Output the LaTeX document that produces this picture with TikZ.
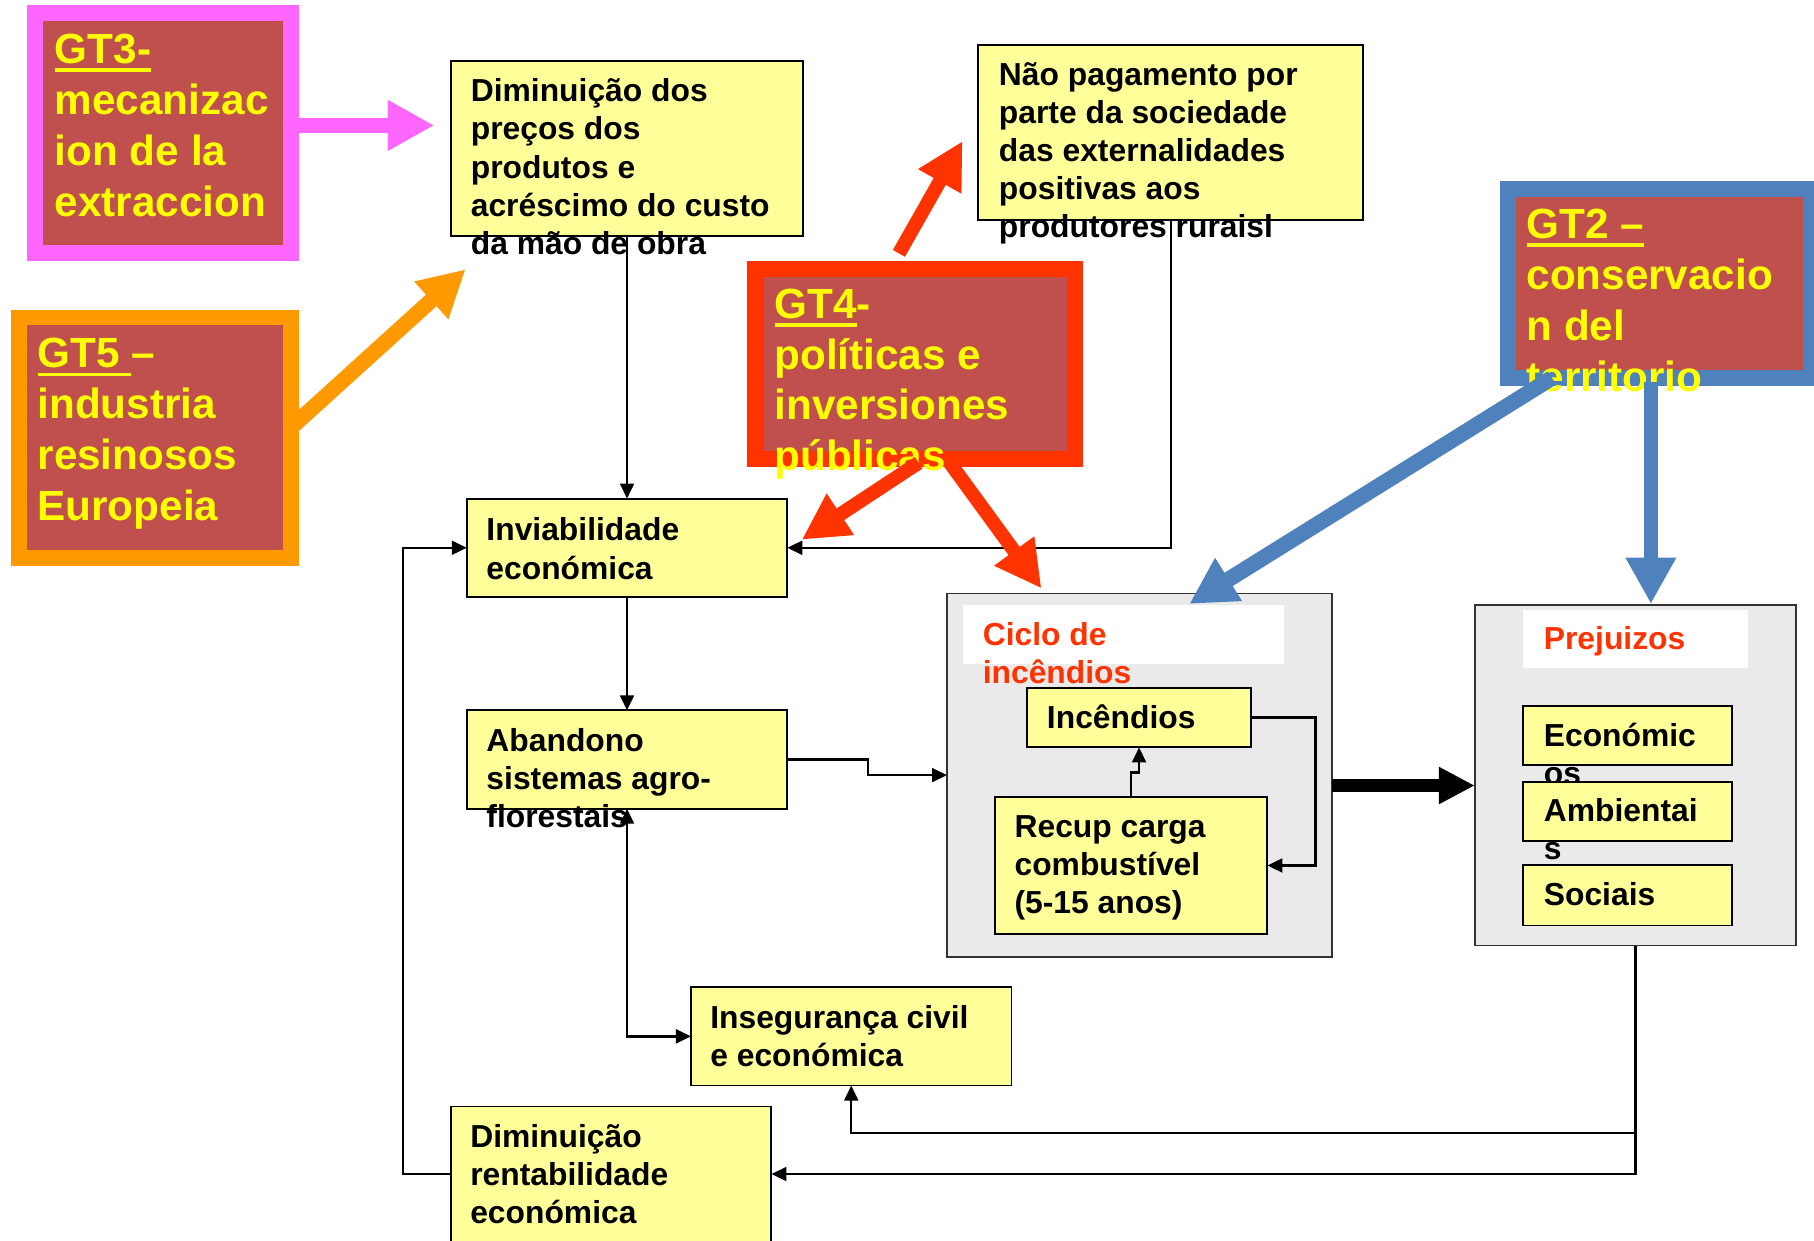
\documentclass[tikz,border=0pt]{standalone}
\usepackage{fontspec}
\setmainfont{Liberation Sans}
\usetikzlibrary{arrows.meta,calc}
\definecolor{boxyellow}{HTML}{FFFF99}
\definecolor{gtbrown}{HTML}{C0504D}
\definecolor{gtyellow}{HTML}{FFFF00}
\definecolor{gtpink}{HTML}{FF66FF}
\definecolor{gtorange}{HTML}{FF9900}
\definecolor{gtred}{HTML}{FF3300}
\definecolor{gtblue}{HTML}{4F81BD}
\definecolor{panelgrey}{HTML}{EAEAEA}
\newcommand\ml[1]{\begin{tabular}[t]{@{}l@{}}#1\end{tabular}}
\newcommand\gtul[1]{\setbox0\hbox{#1}\rlap{\rule[-3.7pt]{\wd0}{1.6pt}}\box0}
\tikzset{
  ybox/.style={draw=black, line width=0.8pt, fill=boxyellow, inner sep=0pt, outer sep=0pt, anchor=north west},
  panel/.style={draw=black!80, line width=0.8pt, fill=panelgrey, inner sep=0pt, outer sep=0pt, anchor=north west},
  whitelab/.style={fill=white, inner sep=0pt, outer sep=0pt, anchor=north west},
  gtbox/.style={line width=6.85pt, fill=gtbrown, inner sep=0pt, outer sep=0pt, anchor=north west},
  txt/.style={anchor=base west, inner sep=0pt, outer sep=0pt, font=\fontsize{13.75pt}{16.5pt}\selectfont\bfseries},
  redtxt/.style={txt, text=gtred},
  gttxt/.style={anchor=base west, inner sep=0pt, outer sep=0pt, text=gtyellow, font=\fontsize{18.25pt}{22pt}\selectfont\bfseries},
  conn/.style={line width=1pt, -{Triangle[length=6.5pt,width=6pt]}},
  conntwo/.style={line width=1pt, {Triangle[length=6.5pt,width=6pt]}-{Triangle[length=6.5pt,width=6pt]}},
  fatblack/.style={line width=5.25pt, -{Triangle[length=15.5pt,width=15pt]}},
  fatcol/.style={line width=6.75pt, -{Triangle[length=20pt,width=20.5pt]}},
  fatred/.style={line width=6pt, gtred, -{Triangle[length=20pt,width=20pt]}},
}
\begin{document}
\begin{tikzpicture}[x=0.5pt, y=-0.5pt]
\useasboundingbox[fill=white] (0,0) rectangle (1568,1072);
\clip (0,0) rectangle (1568,1072);

% GT boxes
\node[gtbox, draw=gtpink, minimum width=110.6pt, minimum height=103.9pt] (gt3) at (30.25,11.25) {};
\node[gttxt] (gt3t) at (47.5,55) {\ml{\gtul{GT3-}\\mecanizac\\ion de la\\extraccion}};

\node[gtbox, draw=gtorange, minimum width=117.4pt, minimum height=103.85pt] (gt5) at (16.75,274.5) {};
\node[gttxt] (gt5t) at (32.5,318) {\ml{\gtul{GT5\ }–\\industria\\resinosos\\Europeia}};

\node[gtbox, draw=gtred, line width=7pt, minimum width=138.1pt, minimum height=81.85pt] (gt4) at (653,232.8) {};
\node[gttxt] (gt4t) at (669.5,275) {\ml{\gtul{GT4}-\\políticas e\\inversiones\\públicas}};

\node[gtbox, draw=gtblue, minimum width=131pt, minimum height=81.4pt] (gt2) at (1303.5,163.6) {};
\node[gttxt] (gt2t) at (1319.5,206) {\ml{\gtul{GT2 –}\\conservacio\\n del\\territorio}};

% yellow boxes
\node[ybox, minimum width=152pt, minimum height=75.75pt] (dimp) at (390,52.5) {};
\node[txt] (dimpt) at (407,88) {\ml{Diminuição dos\\preços dos\\produtos e\\acréscimo do custo\\da mão de obra}};

\node[ybox, minimum width=166.35pt, minimum height=75.9pt] (nao) at (845.7,38.6) {};
\node[txt] (naot) at (863.5,73.5) {\ml{Não pagamento por\\parte da sociedade\\das externalidades\\positivas aos\\produtores ruraisl}};

\node[ybox, minimum width=138.5pt, minimum height=42.5pt] (inv) at (403.5,431) {};
\node[txt] (invt) at (420.5,467.5) {\ml{Inviabilidade\\económica}};

\node[ybox, minimum width=138.5pt, minimum height=42.5pt] (aband) at (403.5,614) {};
\node[txt] (abandt) at (420.5,649.5) {\ml{Abandono\\sistemas agro-\\florestais}};

\node[ybox, minimum width=138.5pt, minimum height=42.5pt] (inseg) at (597.3,853.3) {};
\node[txt] (insegt) at (614,889) {\ml{Insegurança civil\\e económica}};

\node[ybox, minimum width=138.4pt, minimum height=58.4pt] (dimr) at (390,956.4) {};
\node[txt] (dimrt) at (406.5,991.5) {\ml{Diminuição\\rentabilidade\\económica}};

% fire cycle panel
\node[panel, minimum width=166.3pt, minimum height=157pt] (ciclo) at (818.6,513) {};
\node[whitelab, minimum width=138.75pt, minimum height=25.5pt] (ciclolab) at (832.5,523) {};
\node[redtxt] (ciclot) at (849.5,558) {\ml{Ciclo de\\incêndios}};
\node[ybox, minimum width=97pt, minimum height=25.7pt] (inc) at (887.6,594.6) {};
\node[txt] (inct) at (905,629.5) {Incêndios};
\node[ybox, minimum width=117.6pt, minimum height=59.1pt] (recup) at (860.3,689) {};
\node[txt] (recupt) at (877,724) {\ml{Recup carga\\combustível\\(5-15 anos)}};

% losses panel
\node[panel, minimum width=138.95pt, minimum height=147.3pt] (prej) at (1274.8,522.7) {};
\node[whitelab, minimum width=97.2pt, minimum height=24.9pt] (prejlab) at (1316.6,527.2) {};
\node[redtxt] (prejt) at (1334.5,561.5) {Prejuizos};
\node[ybox, minimum width=90.1pt, minimum height=25.5pt] (econ) at (1316.6,610.4) {};
\node[txt] (econt) at (1334.5,645) {\ml{Económic\\os}};
\node[ybox, minimum width=90.1pt, minimum height=25.7pt] (amb) at (1316.6,675.6) {};
\node[txt] (ambt) at (1334.5,710) {\ml{Ambientai\\s}};
\node[ybox, minimum width=90.1pt, minimum height=26pt] (soc) at (1316.6,748) {};
\node[txt] (soct) at (1334.5,783) {Sociais};

% black connectors
\draw[conn] (dimp.south) -- (dimp.south |- inv.north);
\draw[conn] (nao.south) |- (inv.east);
\draw[conn] (inv.south) -- (aband.north);
\draw[conn] (aband.east) -- ++(69.5,0) |- (ciclo.west);
\draw[conntwo] (aband.south) |- (inseg.west);
\draw[conn] (inc.east) -- ++(55.4,0) |- (recup.east);
\draw[conn] (recup.north) -- ++(0,-21.3) -| (inc.south);
\draw[fatblack] (ciclo.east |- 0,679) -- (prej.west |- 0,679);
\draw[conn] (prej.south) -- ++(0,162.3) -| (inseg.south);
\draw[conn] (prej.south) |- (dimr.east);
\draw[conn] (dimr.west) -- ++(-41.8,0) |- (inv.west);

% coloured arrows
\coordinate (t3) at (375.3,108.4);
\coordinate (t5) at (402.4,232.8);
\coordinate (r1s) at (777,219);
\coordinate (r1t) at (832,122);
\coordinate (r2s) at (794,400);
\coordinate (r2t) at (693,466.5);
\coordinate (r3s) at (821,400);
\coordinate (r3t) at (900.2,508.6);
\coordinate (b1s) at (1341.5,326.7);
\coordinate (b1t) at (1028,522);
\coordinate (b2s) at (1427,330);
\coordinate (b2t) at (1427,522);
\draw[fatcol, gtpink] (gt3.east |- 0,108.4) -- (t3);
\draw[fatcol, gtorange] (gt5.east |- 0,369.6) -- (t5);
\draw[fatred] (r1s) -- (r1t);
\draw[fatred] (r2s) -- (r2t);
\draw[fatred] (r3s) -- (r3t);
\draw[fatcol, gtblue] (b1s) -- (b1t);
\draw[fatcol, gtblue, line width=6pt] (b2s) -- (b2t);
\end{tikzpicture}
\end{document}
